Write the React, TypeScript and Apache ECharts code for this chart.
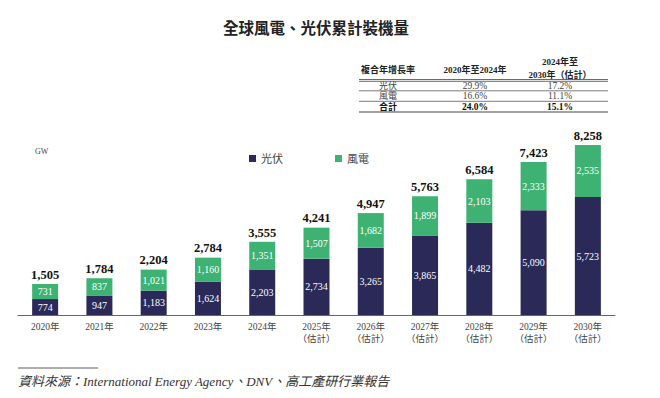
import React, { useEffect, useRef } from "react";
import * as echarts from "echarts";

const categories = [
  "2020年", "2021年", "2022年", "2023年", "2024年",
  "2025年\n（估計）", "2026年\n（估計）", "2027年\n（估計）",
  "2028年\n（估計）", "2029年\n（估計）", "2030年\n（估計）",
];
const solar = [774, 947, 1183, 1624, 2203, 2734, 3265, 3865, 4482, 5090, 5723];
const wind = [731, 837, 1021, 1160, 1351, 1507, 1682, 1899, 2103, 2333, 2535];
const totals = [1505, 1784, 2204, 2784, 3555, 4241, 4947, 5763, 6584, 7423, 8258];

const tableHeader = ["複合年增長率", "2020年至2024年", "2024年至\n2030年（估計）"];
const tableRows = [
  ["光伏", "29.9%", "17.2%"],
  ["風電", "16.6%", "11.1%"],
  ["合計", "24.0%", "15.1%"],
];

const NAVY = "#2a2957";
const GREEN = "#3db272";
const SERIF = "'Liberation Serif', 'DejaVu Serif', 'Noto Sans CJK TC', serif";
const fmt = (v: number) => v.toLocaleString("en-US");

export default function App() {
  const ref = useRef<HTMLDivElement>(null);
  useEffect(() => {
    if (!ref.current) return;
    const chart = echarts.init(ref.current, undefined, { renderer: "svg" });

    const colX = [388, 475, 560];
    const rowY = [85.5, 96.2, 107];
    const tableGraphics: any[] = [];
    tableGraphics.push({
      type: "text", x: colX[0], y: 70,
      style: { text: tableHeader[0], font: `bold 9px ${SERIF}`, fill: "#222", align: "center", verticalAlign: "middle" },
    });
    tableGraphics.push({
      type: "text", x: colX[1], y: 70,
      style: { text: tableHeader[1], font: `bold 9px ${SERIF}`, fill: "#222", align: "center", verticalAlign: "middle" },
    });
    tableGraphics.push({
      type: "text", x: colX[2], y: 68,
      style: { text: tableHeader[2], font: `bold 9px ${SERIF}`, fill: "#222", align: "center", verticalAlign: "middle", lineHeight: 13 },
    });
    const lines = [
      { y: 79.5, w: 0.8 }, { y: 81.3, w: 0.8 },
      { y: 90.8, w: 0.7 }, { y: 101.3, w: 0.7 }, { y: 112, w: 1 },
    ];
    lines.forEach((l) =>
      tableGraphics.push({
        type: "line", shape: { x1: 359, y1: l.y, x2: 608, y2: l.y },
        style: { stroke: "#444", lineWidth: l.w },
      })
    );
    tableRows.forEach((row, ri) => {
      row.forEach((cell, ci) => {
        tableGraphics.push({
          type: "text", x: colX[ci], y: rowY[ri],
          style: {
            text: cell,
            font: `${ri === 2 ? "bold " : ""}${ci === 0 ? 9 : 9.5}px ${SERIF}`,
            fill: ri === 2 ? "#111" : "#444",
            align: "center", verticalAlign: "middle",
          },
        });
      });
    });

    chart.setOption({
      animation: false,
      grid: { left: 18, right: 45, top: 109, bottom: 83 },
      legend: {
        data: ["光伏", "風電"],
        left: 244, top: 148,
        icon: "rect", itemWidth: 7, itemHeight: 7, itemGap: 52,
        textStyle: { fontFamily: SERIF, fontSize: 11, color: "#444" },
      },
      xAxis: {
        type: "category",
        data: categories,
        axisTick: { show: false },
        axisLine: { lineStyle: { color: "#666", width: 1.2 } },
        axisLabel: { fontFamily: SERIF, fontSize: 9.5, color: "#444", lineHeight: 12, margin: 6 },
      },
      yAxis: { type: "value", min: 0, max: 10000, show: false, splitLine: { show: false } },
      series: [
        {
          name: "光伏", type: "bar", stack: "a", data: solar, barWidth: 26,
          itemStyle: { color: NAVY },
          label: { show: true, position: "inside", color: "#fff", fontFamily: SERIF, fontSize: 10, formatter: (p: any) => fmt(p.value) },
        },
        {
          name: "風電", type: "bar", stack: "a", data: wind, barWidth: 26,
          itemStyle: { color: GREEN },
          label: { show: true, position: "inside", color: "#fff", fontFamily: SERIF, fontSize: 10, formatter: (p: any) => fmt(p.value) },
        },
        {
          name: "total", type: "bar", data: totals, barWidth: 26, barGap: "-100%", z: 0,
          itemStyle: { color: "rgba(0,0,0,0)" },
          label: { show: true, position: "top", distance: 3, color: "#111", fontFamily: SERIF, fontSize: 12.5, fontWeight: "bold", formatter: (p: any) => fmt(p.value) },
          silent: true,
        },
      ],
      graphic: [
        {
          type: "text", x: 316, y: 27,
          style: { text: "全球風電、光伏累計裝機量", font: "bold 15.5px 'Noto Sans CJK TC', sans-serif", fill: "#222", align: "center", verticalAlign: "middle" },
        },
        {
          type: "text", x: 35, y: 151,
          style: { text: "GW", font: `8px ${SERIF}`, fill: "#444", align: "left", verticalAlign: "middle" },
        },
        ...tableGraphics,
        {
          type: "line", shape: { x1: 18, y1: 368, x2: 98, y2: 368 },
          style: { stroke: "#333", lineWidth: 0.8 },
        },
        {
          type: "text", x: 18, y: 381,
          style: { text: "資料來源：International Energy Agency、DNV、高工產研行業報告", font: `italic 13px ${SERIF}`, fill: "#333", align: "left", verticalAlign: "middle" },
        },
      ],
    });
    return () => chart.dispose();
  }, []);
  return <div ref={ref} style={{ width: 660, height: 398, position: "absolute", left: 0, top: 0 }} />;
}
